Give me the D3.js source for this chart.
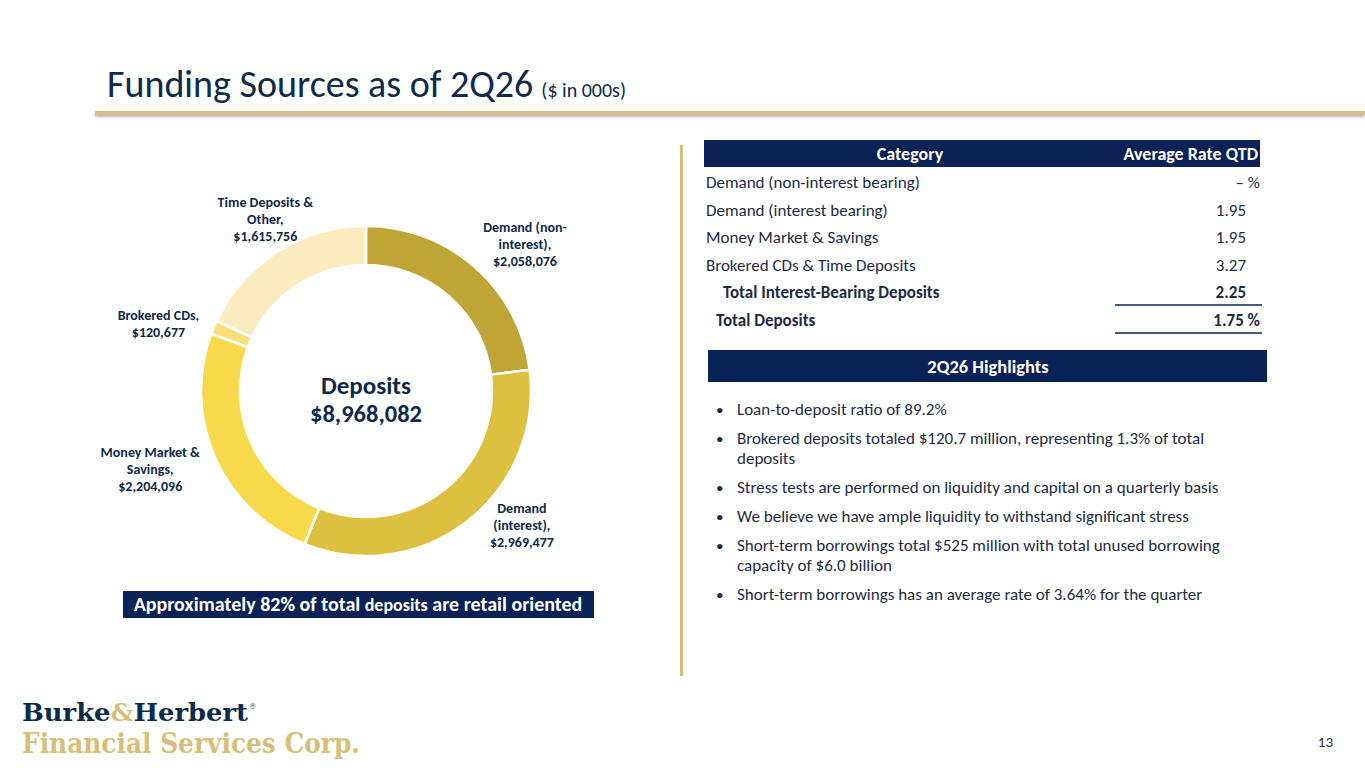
<!DOCTYPE html>
<html><head><meta charset="utf-8">
<script src="https://cdn.jsdelivr.net/npm/d3@7"></script>
<style>
html,body{margin:0;padding:0;background:#fff;}
svg{display:block;font-family:Carlito,Lato,"Noto Sans",sans-serif;}
</style></head>
<body>
<svg id="c" width="1365" height="768"></svg>
<script>
// ---- Data ----
const categories = ["Demand (non-interest)", "Demand (interest)", "Money Market & Savings", "Brokered CDs", "Time Deposits & Other"];
const labelLines = [["Demand (non-", "interest),"], ["Demand", "(interest),"], ["Money Market &", "Savings,"], ["Brokered CDs,"], ["Time Deposits &", "Other,"]];
const values = [2058076, 2969477, 2204096, 120677, 1615756];
const sliceColors = ["#BEA536", "#DDC040", "#F8D94A", "#F9DF7C", "#FBEBBF"];
const totalDeposits = 8968082;

const rateCategories = ["Demand (non-interest bearing)", "Demand (interest bearing)", "Money Market & Savings", "Brokered CDs & Time Deposits", "Total Interest-Bearing Deposits", "Total Deposits"];
const rateValues = ["\u2013 %", "1.95", "1.95", "3.27", "2.25", "1.75 %"];
const rateBold = [false, false, false, false, true, true];

const highlights = [
  ["Loan-to-deposit ratio of 89.2%"],
  ["Brokered deposits totaled $120.7 million, representing 1.3% of total", "deposits"],
  ["Stress tests are performed on liquidity and capital on a quarterly basis"],
  ["We believe we have ample liquidity to withstand significant stress"],
  ["Short-term borrowings total $525 million with total unused borrowing", "capacity of $6.0 billion"],
  ["Short-term borrowings has an average rate of 3.64% for the quarter"]
];

// ---- Drawing ----
const svg = d3.select("#c");
const navy = "#0B2257";
const textNavy = "#0E2A4A";
const bodyText = "#1E2B45";
const gold = "#D8BF78";
const fmt = d3.format("$,");

// Title
const title = svg.append("text").attr("x", 107).attr("y", 97).attr("fill", textNavy);
title.append("tspan").attr("font-size", 38).text("Funding Sources as of 2Q26");
title.append("tspan").attr("font-size", 20).attr("dx", 8).text("($ in 000s)");

// underline bar with shadow
const defs = svg.append("defs");
const f = defs.append("filter").attr("id", "sh").attr("x", "-5%").attr("y", "-200%").attr("width", "110%").attr("height", "500%");
f.append("feDropShadow").attr("dx", 0).attr("dy", 2).attr("stdDeviation", 1.5).attr("flood-color", "#7a7aa0").attr("flood-opacity", 0.6);
svg.append("rect").attr("x", 95).attr("y", 111).attr("width", 1270).attr("height", 4).attr("fill", gold).attr("filter", "url(#sh)");

// vertical divider
svg.append("rect").attr("x", 680).attr("y", 145).attr("width", 3).attr("height", 531).attr("fill", gold);

// Donut
const cx = 366, cy = 391, rOuter = 165, rInner = 126;
const pie = d3.pie().sort(null).value(d => d)(values);
const arc = d3.arc().innerRadius(rInner).outerRadius(rOuter);
const g = svg.append("g").attr("transform", `translate(${cx},${cy})`);
g.selectAll("path.slice").data(pie).join("path")
  .attr("d", arc)
  .attr("fill", (d, i) => sliceColors[i])
  .attr("stroke", "#fff").attr("stroke-width", 2.5);

// label placement: outside-end along slice mid-angle, with best-fit nudges
const labelArc = d3.arc().innerRadius(212).outerRadius(212);
const labelNudge = [[19, 13], [26, -33], [-22, -7], [-12, 15], [13, 8]];
const lbl = g.selectAll("text.lbl").data(pie).join("text")
  .attr("class", "lbl")
  .attr("text-anchor", "middle")
  .attr("font-size", 14).attr("font-weight", "bold").attr("fill", textNavy)
  .attr("transform", (d, i) => { const c = labelArc.centroid(d); return `translate(${c[0] + labelNudge[i][0]},${c[1] + labelNudge[i][1]})`; });
lbl.each(function(d, i) {
  const lines = labelLines[i].concat([fmt(values[i])]);
  const t = d3.select(this);
  const n = lines.length, lh = 17;
  lines.forEach((s, k) => {
    t.append("tspan").attr("x", 0).attr("y", (k - (n - 1) / 2) * lh + 4).text(s);
  });
});

g.append("text").attr("text-anchor", "middle").attr("y", 3).attr("font-size", 25).attr("font-weight", "bold").attr("fill", textNavy).text("Deposits");
g.append("text").attr("text-anchor", "middle").attr("y", 31).attr("font-size", 24.5).attr("font-weight", "bold").attr("fill", textNavy).text(fmt(totalDeposits));

// Retail banner
svg.append("rect").attr("x", 123).attr("y", 591).attr("width", 471).attr("height", 27).attr("fill", navy);
const bt = svg.append("text").attr("x", 358).attr("y", 611).attr("text-anchor", "middle").attr("fill", "#fff").attr("font-weight", "bold").attr("font-size", 20);
bt.append("tspan").text("Approximately 82% of total ");
bt.append("tspan").attr("font-size", 18).text("deposits");
bt.append("tspan").text(" are retail oriented");

// Rate table
svg.append("rect").attr("x", 704).attr("y", 140).attr("width", 556).attr("height", 27).attr("fill", navy);
svg.append("text").attr("x", 910).attr("y", 160).attr("text-anchor", "middle").attr("fill", "#fff").attr("font-weight", "bold").attr("font-size", 18).text("Category");
svg.append("text").attr("x", 1258).attr("y", 160).attr("text-anchor", "end").attr("fill", "#fff").attr("font-weight", "bold").attr("font-size", 18).text("Average Rate QTD");

const rowY = d3.scalePoint().domain(d3.range(rateCategories.length)).range([188, 326]);
const rowIndent = [706, 706, 706, 706, 723, 716];
rateCategories.forEach((c, i) => {
  svg.append("text").attr("x", rowIndent[i]).attr("y", rowY(i)).attr("font-size", 17)
    .attr("font-weight", rateBold[i] ? "bold" : "normal").attr("fill", bodyText).text(c);
  const v = rateValues[i];
  const hasPct = v.endsWith("%");
  svg.append("text").attr("x", hasPct ? 1260 : 1246).attr("y", rowY(i)).attr("text-anchor", "end").attr("font-size", 17)
    .attr("font-weight", rateBold[i] ? "bold" : "normal").attr("fill", bodyText).text(v);
});
[305, 333].forEach(y => svg.append("line").attr("x1", 1115).attr("x2", 1262).attr("y1", y).attr("y2", y).attr("stroke", navy).attr("stroke-width", 1.3));

// Highlights
svg.append("rect").attr("x", 708).attr("y", 350).attr("width", 559).attr("height", 32).attr("fill", navy);
svg.append("text").attr("x", 988).attr("y", 373).attr("text-anchor", "middle").attr("fill", "#fff").attr("font-weight", "bold").attr("font-size", 18.5).text("2Q26 Highlights");

let y = 415;
highlights.forEach(lines => {
  svg.append("text").attr("x", 716).attr("y", y).attr("font-size", 15).attr("fill", bodyText).text("\u2022");
  lines.forEach((s, k) => {
    svg.append("text").attr("x", 737).attr("y", y + k * 20).attr("font-size", 17).attr("fill", bodyText).text(s);
  });
  y += (lines.length - 1) * 20 + 29;
});

// Logo
const logoFont = "'DejaVu Serif Condensed','DejaVu Serif',serif";
const logo = svg.append("text").attr("x", 22).attr("y", 721).attr("font-family", logoFont).attr("font-weight", "bold").attr("font-size", 25).attr("fill", "#0E2A4A")
  .attr("textLength", 226).attr("lengthAdjust", "spacingAndGlyphs");
logo.append("tspan").text("Burke");
logo.append("tspan").attr("fill", gold).text("&");
logo.append("tspan").text("Herbert");
svg.append("text").attr("x", 249).attr("y", 709).attr("font-family", logoFont).attr("font-size", 8).attr("fill", "#0E2A4A").text("\u00AE");
svg.append("text").attr("x", 22).attr("y", 753).attr("font-family", logoFont).attr("font-weight", "bold").attr("font-size", 27).attr("fill", gold)
  .attr("textLength", 338).attr("lengthAdjust", "spacingAndGlyphs").text("Financial Services Corp.");

// page number
svg.append("text").attr("x", 1333).attr("y", 747).attr("text-anchor", "end").attr("font-size", 15).attr("fill", bodyText).text("13");
</script>
</body></html>
